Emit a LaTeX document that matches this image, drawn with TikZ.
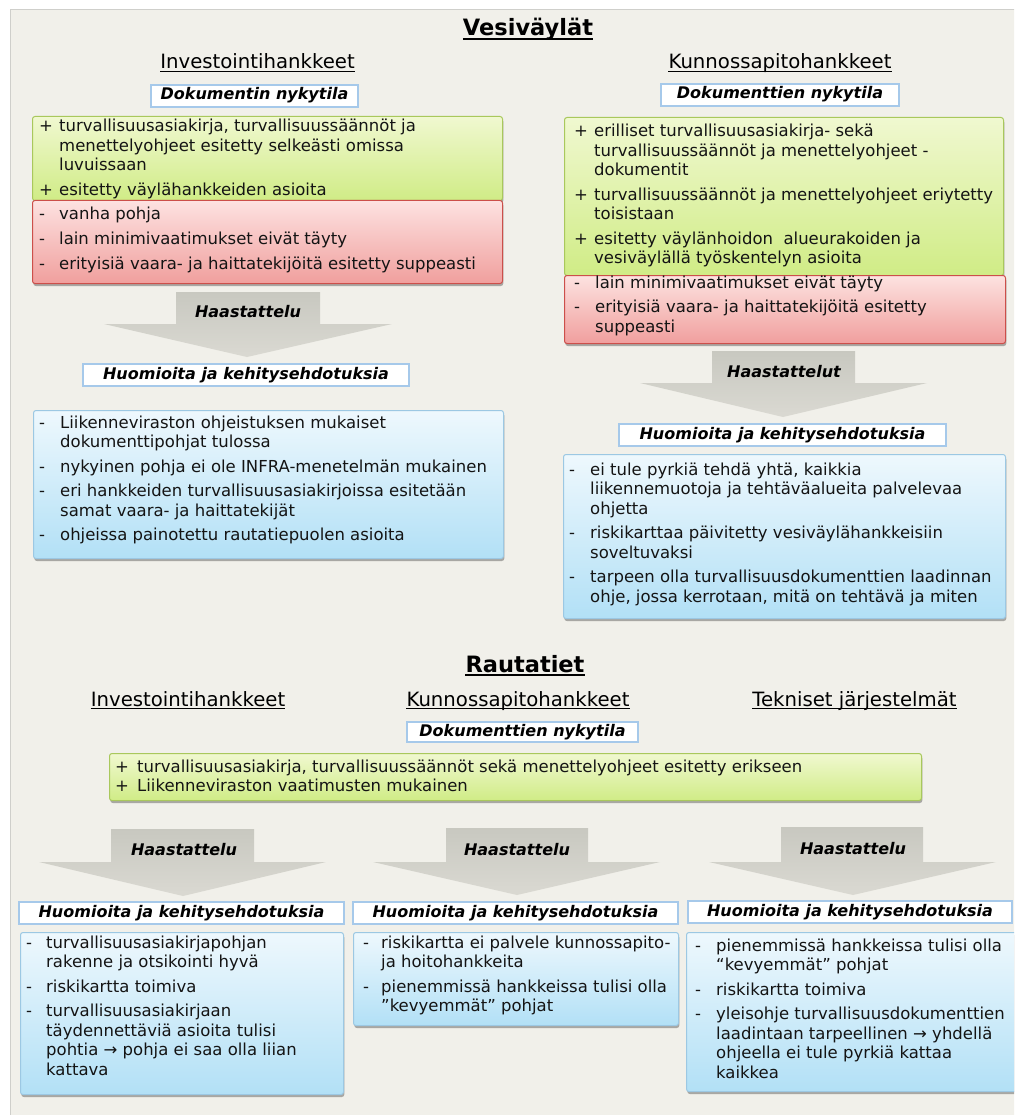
\documentclass[tikz,border=0pt]{standalone}
\usepackage{fontspec}
\setmainfont{DejaVu Sans}
\usetikzlibrary{shadows}
\definecolor{panelbg}{HTML}{F1F0EA}
\definecolor{panelln}{HTML}{CFCFCB}
\definecolor{grnT}{HTML}{F0F8D0}
\definecolor{grnB}{HTML}{D0EC86}
\definecolor{grnL}{HTML}{A9C85C}
\definecolor{redT}{HTML}{FDE2E1}
\definecolor{redB}{HTML}{F09F9D}
\definecolor{redL}{HTML}{CC4F4A}
\definecolor{bluT}{HTML}{EEF8FD}
\definecolor{bluB}{HTML}{B2E0F6}
\definecolor{bluL}{HTML}{9CC8E3}
\definecolor{hdrL}{HTML}{A6C9EA}
\definecolor{arrT}{HTML}{C8C8C0}
\definecolor{arrB}{HTML}{DAD9D2}
\newcommand\bodyf{\fontsize{16.5}{19.5}\selectfont}
\newcommand\hdrf{\fontsize{16}{19}\selectfont\bfseries\itshape}
\newcommand\subf{\fontsize{19.7}{23}\selectfont}
\newcommand\titf{\fontsize{22.5}{27}\selectfont\bfseries}
\newcommand\itemlist[2]{\begin{tabular}[t]{@{}p{#1pt}@{}l@{}}#2\end{tabular}}
\begin{document}
\begin{tikzpicture}[x=1pt,y=-1pt,
  box/.style={rounded corners=2.5pt, line width=1pt, anchor=north west, inner sep=0pt,
    drop shadow={shadow xshift=0.8pt, shadow yshift=-2.5pt, opacity=0.3, fill=black}},
  greenbox/.style={box, draw=grnL, top color=grnT, bottom color=grnB},
  redbox/.style={box, draw=redL, top color=redT, bottom color=redB},
  bluebox/.style={box, draw=bluL, top color=bluT, bottom color=bluB},
  hdrbox/.style={draw=hdrL, line width=2pt, fill=white, inner sep=0pt, font=\hdrf,
    text height=11.5pt, text depth=3.5pt, minimum height=22pt},
  txt/.style={anchor=base west, inner sep=0pt, font=\bodyf, text=black!92},
  titl/.style={anchor=base, inner sep=0pt, font=\titf},
  subh/.style={anchor=base, inner sep=0pt, font=\subf},
  uline/.style={line width=1.2pt},
  arrowshape/.style={top color=arrT, bottom color=arrB, draw=none},
  arrlbl/.style={inner sep=0pt, font=\hdrf}
]
\clip (0,0) rectangle (1014,1115);
\fill[white] (0,0) rectangle (1014,1115);
\path[fill=panelbg, draw=panelln, line width=1pt] (10,10) rectangle (1040,1140);

% ---------- Vesiväylät ----------
\node[titl] (ti1) at (528,36) {Vesiväylät};
\draw[uline] ([yshift=-3pt]ti1.base west) -- ([yshift=-3pt]ti1.base east);
\node[subh] (s1) at (257.5,69) {Investointihankkeet};
\draw[uline] ([yshift=-2.5pt]s1.base west) -- ([yshift=-2.5pt]s1.base east);
\node[subh] (s2) at (780,69) {Kunnossapitohankkeet};
\draw[uline] ([yshift=-2.5pt]s2.base west) -- ([yshift=-2.5pt]s2.base east);

\node[hdrbox, minimum width=207] (hd1) at (254.5,96) {Dokumentin nykytila};
\node[hdrbox, minimum width=238] (hd2) at (780,95) {Dokumenttien nykytila};

\node[greenbox, minimum width=470, minimum height=84] (g1) at (32,116) {};
\node[redbox, minimum width=470, minimum height=83] (r1) at (32,200) {};
\node[greenbox, minimum width=439, minimum height=158] (g2) at (564,117) {};
\node[redbox, minimum width=441, minimum height=68] (r2) at (564,275) {};

\node[txt] (tg1) at (39,132) {\itemlist{20}{%
+ & turvallisuusasiakirja, turvallisuussäännöt ja\\
  & menettelyohjeet esitetty selkeästi omissa\\
  & luvuissaan\\[5pt]
+ & esitetty väylähankkeiden asioita}};
\node[txt] (tr1) at (39,220) {\itemlist{20}{%
- & vanha pohja\\[5pt]
- & lain minimivaatimukset eivät täyty\\[5pt]
- & erityisiä vaara- ja haittatekijöitä esitetty suppeasti}};
\node[txt] (tg2) at (574,137) {\itemlist{20}{%
+ & erilliset turvallisuusasiakirja- sekä\\
  & turvallisuussäännöt ja menettelyohjeet -\\
  & dokumentit\\[5pt]
+ & turvallisuussäännöt ja menettelyohjeet eriytetty\\
  & toisistaan\\[5pt]
+ & esitetty väylänhoidon\ \ alueurakoiden ja\\
  & vesiväylällä työskentelyn asioita}};
\node[txt] (tr2) at (574,288) {\itemlist{21}{%
- & lain minimivaatimukset eivät täyty\\[5pt]
- & erityisiä vaara- ja haittatekijöitä esitetty\\
  & suppeasti}};

\shade[arrowshape] (176,292) -- (320,292) -- (320,324) -- (392,324) -- (247,357) -- (104,324) -- (176,324) -- cycle;
\node[arrlbl] (a1) at (248,312) {Haastattelu};
\shade[arrowshape] (712,351) -- (855,351) -- (855,383) -- (927,383) -- (783,417) -- (640,383) -- (712,383) -- cycle;
\node[arrlbl] (a2) at (784,372) {Haastattelut};

\node[hdrbox, minimum width=326] (hh1) at (246,375) {Huomioita ja kehitysehdotuksia};
\node[hdrbox, minimum width=327] (hh2) at (782.5,435) {Huomioita ja kehitysehdotuksia};

\node[bluebox, minimum width=470, minimum height=148] (b1) at (33,410) {};
\node[bluebox, minimum width=442, minimum height=164] (b2) at (563,454) {};

\node[txt] (tb1) at (39,428) {\itemlist{21}{%
- & Liikenneviraston ohjeistuksen mukaiset\\
  & dokumenttipohjat tulossa\\[5pt]
- & nykyinen pohja ei ole INFRA-menetelmän mukainen\\[5pt]
- & eri hankkeiden turvallisuusasiakirjoissa esitetään\\
  & samat vaara- ja haittatekijät\\[5pt]
- & ohjeissa painotettu rautatiepuolen asioita}};
\node[txt] (tb2) at (569,475) {\itemlist{21}{%
- & ei tule pyrkiä tehdä yhtä, kaikkia\\
  & liikennemuotoja ja tehtäväalueita palvelevaa\\
  & ohjetta\\[5pt]
- & riskikarttaa päivitetty vesiväylähankkeisiin\\
  & soveltuvaksi\\[5pt]
- & tarpeen olla turvallisuusdokumenttien laadinnan\\
  & ohje, jossa kerrotaan, mitä on tehtävä ja miten}};

% ---------- Rautatiet ----------
\node[titl] (ti2) at (525,672) {Rautatiet};
\draw[uline] ([yshift=-3pt]ti2.base west) -- ([yshift=-3pt]ti2.base east);
\node[subh] (s3) at (188,706) {Investointihankkeet};
\draw[uline] ([yshift=-2.5pt]s3.base west) -- ([yshift=-2.5pt]s3.base east);
\node[subh] (s4) at (518,706) {Kunnossapitohankkeet};
\draw[uline] ([yshift=-2.5pt]s4.base west) -- ([yshift=-2.5pt]s4.base east);
\node[subh] (s5) at (854.5,706) {Tekniset järjestelmät};
\draw[uline] ([yshift=-2.5pt]s5.base west) -- ([yshift=-2.5pt]s5.base east);

\node[hdrbox, minimum width=231, minimum height=20] (hd3) at (522.5,732) {Dokumenttien nykytila};

\node[greenbox, minimum width=812, minimum height=47] (g3) at (109,753) {};
\node[txt] (tg3) at (115,772) {\itemlist{22}{%
+ & turvallisuusasiakirja, turvallisuussäännöt sekä menettelyohjeet esitetty erikseen\\
+ & Liikenneviraston vaatimusten mukainen}};

\shade[arrowshape] (111,829) -- (254,829) -- (254,862) -- (326,862) -- (183,896) -- (39,862) -- (111,862) -- cycle;
\node[arrlbl] (a3) at (184,850) {Haastattelu};
\shade[arrowshape] (446,828) -- (588,828) -- (588,862) -- (660,862) -- (517,895) -- (373,862) -- (446,862) -- cycle;
\node[arrlbl] (a4) at (517,850) {Haastattelu};
\shade[arrowshape] (781,827) -- (923,827) -- (923,862) -- (996,862) -- (853,895) -- (709,862) -- (781,862) -- cycle;
\node[arrlbl] (a5) at (853,849) {Haastattelu};

\node[hdrbox, minimum width=325] (hh3) at (181.5,913) {Huomioita ja kehitysehdotuksia};
\node[hdrbox, minimum width=325] (hh4) at (515.5,913) {Huomioita ja kehitysehdotuksia};
\node[hdrbox, minimum width=324] (hh5) at (850,912) {Huomioita ja kehitysehdotuksia};

\node[bluebox, minimum width=323, minimum height=162] (b3) at (20,932) {};
\node[bluebox, minimum width=325, minimum height=93] (b4) at (353,932) {};
\node[bluebox, minimum width=335, minimum height=159] (b5) at (686,932) {};

\node[txt] (tb3) at (26,948) {\itemlist{20}{%
- & turvallisuusasiakirjapohjan\\
  & rakenne ja otsikointi hyvä\\[5pt]
- & riskikartta toimiva\\[5pt]
- & turvallisuusasiakirjaan\\
  & täydennettäviä asioita tulisi\\
  & pohtia → pohja ei saa olla liian\\
  & kattava}};
\node[txt] (tb4) at (363,948) {\itemlist{18}{%
- & riskikartta ei palvele kunnossapito-\\
  & ja hoitohankkeita\\[5pt]
- & pienemmissä hankkeissa tulisi olla\\
  & ”kevyemmät” pohjat}};
\node[txt] (tb5) at (695,951) {\itemlist{21}{%
- & pienemmissä hankkeissa tulisi olla\\
  & “kevyemmät” pohjat\\[5pt]
- & riskikartta toimiva\\[5pt]
- & yleisohje turvallisuusdokumenttien\\
  & laadintaan tarpeellinen → yhdellä\\
  & ohjeella ei tule pyrkiä kattaa\\
  & kaikkea}};
\end{tikzpicture}
\end{document}
